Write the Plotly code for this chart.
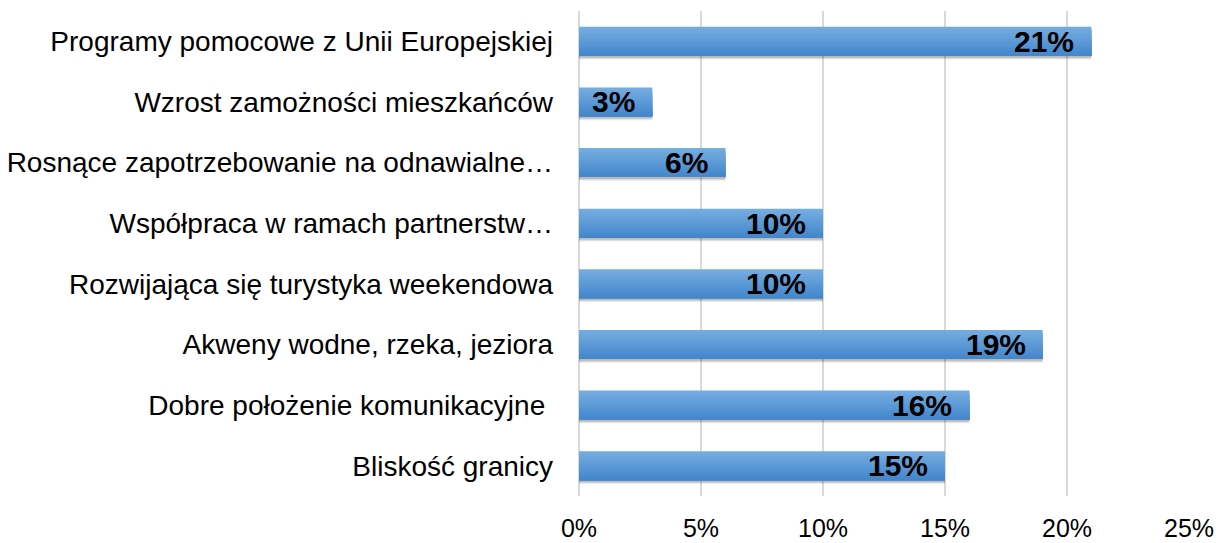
import plotly.graph_objects as go

categories = [
    "Programy pomocowe z Unii Europejskiej",
    "Wzrost zamożności mieszkańców",
    "Rosnące zapotrzebowanie na odnawialne…",
    "Współpraca w ramach partnerstw…",
    "Rozwijająca się turystyka weekendowa",
    "Akweny wodne, rzeka, jeziora",
    "Dobre położenie komunikacyjne ",
    "Bliskość granicy",
]
values = [21, 3, 6, 10, 10, 19, 16, 15]
labels = ["21%", "3%", "6%", "10%", "10%", "19%", "16%", "15%"]
x_ticks = [0, 5, 10, 15, 20, 25]
x_tick_labels = ["0%", "5%", "10%", "15%", "20%", "25%"]

FONT = "Liberation Sans, Arial, sans-serif"
fig = go.Figure()

bar_w = 0.48
# soft shadow
for dy, alpha in [(0.06, 0.08), (0.045, 0.10), (0.03, 0.12)]:
    fig.add_trace(go.Bar(
        y=categories, x=values, orientation="h",
        width=bar_w, offset=-bar_w / 2 + dy,
        marker=dict(color="rgba(0,0,0,%.2f)" % alpha, line=dict(width=0)),
        hoverinfo="skip", showlegend=False,
    ))

# gradient (top light -> bottom darker), each slice covers to the bar bottom
top_rgb = (0x75, 0xac, 0xe0)
bot_rgb = (0x44, 0x87, 0xcc)
n = 12
h = bar_w / n
for i in range(n):
    t = i / (n - 1)
    c = tuple(round(top_rgb[k] + (bot_rgb[k] - top_rgb[k]) * t) for k in range(3))
    fig.add_trace(go.Bar(
        y=categories, x=values, orientation="h",
        width=bar_w - i * h, offset=-bar_w / 2 + i * h,
        marker=dict(color="rgb(%d,%d,%d)" % c, line=dict(width=0)),
        hoverinfo="skip", showlegend=False,
    ))

for cat, v, lab in zip(categories, values, labels):
    fig.add_annotation(
        x=v, y=cat, text="<b>%s</b>" % lab, showarrow=False,
        xanchor="right", yanchor="middle", xshift=-15, yshift=0,
        font=dict(family=FONT, size=30, color="#000000"),
    )

fig.update_layout(
    width=1214, height=535,
    margin=dict(l=571, r=33, t=3, b=47),
    barmode="overlay",
    plot_bgcolor="white", paper_bgcolor="white",
    font=dict(family=FONT, size=25, color="#000000"),
    showlegend=False,
    xaxis=dict(
        range=[0, 25], tickvals=x_ticks, ticktext=x_tick_labels,
        showgrid=True, gridcolor="#d9d9d9", gridwidth=1.5,
        zeroline=True, zerolinecolor="#d9d9d9", zerolinewidth=1.5,
        showline=False, ticks="", ticklabelstandoff=15,
        automargin=False,
        tickfont=dict(family=FONT, size=25, color="#000000"),
    ),
    yaxis=dict(
        categoryorder="array", categoryarray=categories,
        autorange="reversed", showgrid=False, zeroline=False,
        showline=False, ticks="", ticklabelstandoff=25,
        automargin=False,
        tickfont=dict(family=FONT, size=28, color="#000000"),
    ),
)

fig.write_html("out.html")
